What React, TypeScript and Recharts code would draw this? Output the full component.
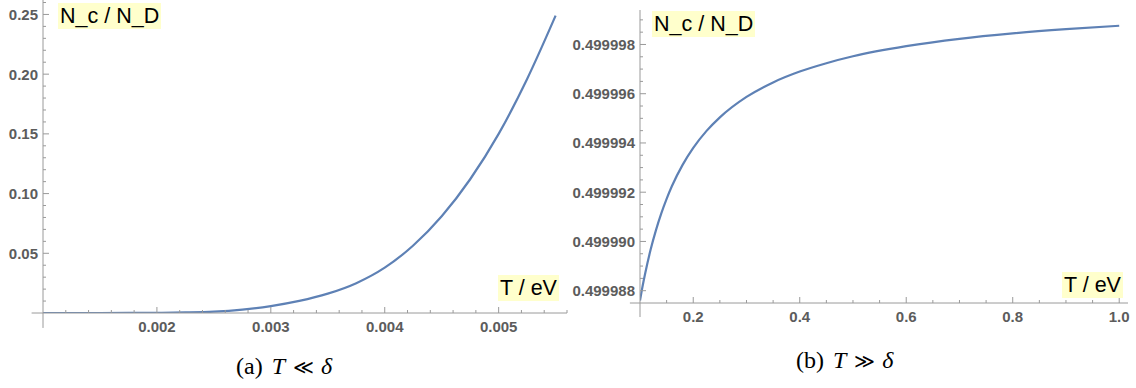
import { LineChart, Line, XAxis, YAxis, ReferenceLine } from "recharts";

// (a) T << delta : temperature in eV and the ratio N_c / N_D
const LOW_T = [
  0.001, 0.00125, 0.0015, 0.00175, 0.002, 0.00225, 0.0025, 0.00275, 0.003,
  0.00325, 0.0035, 0.00375, 0.004, 0.00425, 0.0045, 0.00475, 0.005, 0.00525,
  0.0055,
];
const LOW_RATIO = [
  0, 0, 0.00001, 0.00005, 0.00018, 0.0005, 0.0012, 0.0029, 0.0058, 0.0101,
  0.0162, 0.025, 0.038, 0.0565, 0.081, 0.112, 0.15, 0.196, 0.249,
];

// (b) T >> delta
const HIGH_T = [
  0.1, 0.105, 0.11, 0.12, 0.13, 0.14, 0.15, 0.16, 0.18, 0.2, 0.225, 0.25, 0.3,
  0.35, 0.4, 0.45, 0.5, 0.6, 0.7, 0.8, 0.9, 1.0,
];
const HIGH_RATIO = [
  0.4999876, 0.4999882, 0.49998873, 0.49998967, 0.49999046, 0.49999114,
  0.49999173, 0.49999225, 0.49999311, 0.4999938, 0.49999449, 0.49999504,
  0.49999587, 0.49999646, 0.4999969, 0.49999724, 0.49999752, 0.49999793,
  0.49999823, 0.49999845, 0.49999862, 0.49999876,
];

// labelled ticks
const LOW_X_MAJOR = [0.002, 0.003, 0.004, 0.005];
const LOW_Y_MAJOR = [0.05, 0.1, 0.15, 0.2, 0.25];
const HIGH_X_MAJOR = [0.2, 0.4, 0.6, 0.8, 1.0];
const HIGH_Y_MAJOR = [0.499988, 0.49999, 0.499992, 0.499994, 0.499996, 0.499998];

// all ticks incl. minor ones
const LOW_X_TICKS = Array.from({ length: 23 }, (_, i) => +(0.0012 + i * 0.0002).toFixed(4));
const LOW_Y_TICKS = Array.from({ length: 26 }, (_, i) => +((i + 1) * 0.01).toFixed(2));
const HIGH_X_TICKS = Array.from({ length: 18 }, (_, i) => +(0.15 + i * 0.05).toFixed(2));
const HIGH_Y_TICKS = Array.from({ length: 23 }, (_, i) => (499988 + i * 0.5) / 1e6);

const lowData = LOW_T.map((t, i) => ({ t, v: LOW_RATIO[i] }));
const highData = HIGH_T.map((t, i) => ({ t, v: HIGH_RATIO[i] }));

const AXIS = "#9a9a9a";
const TICK_TEXT = "#5c5c5c";
const CURVE = "#5e81b5";

const isMajor = (majors: number[], v: number) =>
  majors.some((m) => Math.abs(m - v) < 1e-10);

const makeXTick = (majors: number[], digits: number) => (props: any) => {
  const { x, y, payload } = props;
  const major = isMajor(majors, payload.value);
  return (
    <g>
      <line x1={x} y1={y} x2={x} y2={y - (major ? 6 : 3)} stroke={AXIS} />
      {major && (
        <text
          x={x}
          y={y + 19}
          textAnchor="middle"
          fontFamily="Liberation Sans, Arial, sans-serif"
          fontWeight="bold"
          fontSize={15}
          fill={TICK_TEXT}
        >
          {payload.value.toFixed(digits)}
        </text>
      )}
    </g>
  );
};

const makeYTick = (majors: number[], digits: number) => (props: any) => {
  const { x, y, payload } = props;
  const major = isMajor(majors, payload.value);
  return (
    <g>
      <line x1={x} y1={y} x2={x + (major ? 6 : 3)} y2={y} stroke={AXIS} />
      {major && (
        <text
          x={x - 5}
          y={y}
          dy="0.36em"
          textAnchor="end"
          fontFamily="Liberation Sans, Arial, sans-serif"
          fontWeight="bold"
          fontSize={15}
          fill={TICK_TEXT}
        >
          {payload.value.toFixed(digits)}
        </text>
      )}
    </g>
  );
};

const tagStyle = (left: number, top: number): React.CSSProperties => ({
  position: "absolute",
  left,
  top,
  background: "#ffffcc",
  fontFamily: "Liberation Sans, Arial, sans-serif",
  fontSize: 21.5,
  lineHeight: "26px",
  padding: "0 2px",
  color: "#000",
  whiteSpace: "nowrap",
});

const captionStyle = (left: number, top: number): React.CSSProperties => ({
  position: "absolute",
  left,
  top,
  fontFamily: "Liberation Serif, Times New Roman, serif",
  fontSize: 24,
  lineHeight: "24px",
  whiteSpace: "nowrap",
  color: "#000",
});

const Caption = ({ tag, rel }: { tag: string; rel: string }) => (
  <>
    <span>({tag})</span>
    <i style={{ marginLeft: 9 }}>T</i>
    <span style={{ marginLeft: 8, fontFamily: "DejaVu Serif, serif", fontSize: 20 }}>{rel}</span>
    <i style={{ marginLeft: 7 }}>δ</i>
  </>
);

const App = () => {
  return (
    <div style={{ position: "absolute", left: 0, top: 0, width: 1136, height: 388, background: "#fff" }}>
      <div style={{ position: "absolute", left: 0, top: 0 }}>
        <LineChart
          width={580}
          height={345}
          data={lowData}
          margin={{ top: 0, right: 13, bottom: 31, left: 42 }}
          style={{ overflow: "visible" }}
        >
          <XAxis
            type="number"
            dataKey="t"
            domain={[0.001, 0.0056]}
            allowDataOverflow
            ticks={LOW_X_TICKS}
            interval={0}
            height={1}
            tickSize={0}
            tickMargin={0}
            tickLine={false}
            axisLine={{ stroke: AXIS }}
            tick={makeXTick(LOW_X_MAJOR, 3)}
          />
          <YAxis
            type="number"
            domain={[0, 0.2621]}
            allowDataOverflow
            ticks={LOW_Y_TICKS}
            interval={0}
            width={1}
            tickSize={0}
            tickMargin={0}
            tickLine={false}
            axisLine={{ stroke: AXIS }}
            tick={makeYTick(LOW_Y_MAJOR, 2)}
          />
          <ReferenceLine
            segment={[{ x: 0.0009, y: 0 }, { x: 0.001, y: 0 }]}
            stroke={AXIS}
            ifOverflow="visible"
          />
          <ReferenceLine
            segment={[{ x: 0.001, y: 0 }, { x: 0.001, y: -0.0125 }]}
            stroke={AXIS}
            ifOverflow="visible"
          />
          <Line
            type="monotone"
            dataKey="v"
            stroke={CURVE}
            strokeWidth={2.2}
            dot={false}
            isAnimationActive={false}
          />
        </LineChart>
      </div>

      <div style={{ position: "absolute", left: 570, top: 0 }}>
        <LineChart
          width={566}
          height={345}
          data={highData}
          margin={{ top: 10, right: 8, bottom: 41, left: 69 }}
          style={{ overflow: "visible" }}
        >
          <XAxis
            type="number"
            dataKey="t"
            domain={[0.1, 1.0165]}
            allowDataOverflow
            ticks={HIGH_X_TICKS}
            interval={0}
            height={1}
            tickSize={0}
            tickMargin={0}
            tickLine={false}
            axisLine={{ stroke: AXIS }}
            tick={makeXTick(HIGH_X_MAJOR, 1)}
          />
          <YAxis
            type="number"
            domain={[0.4999875, 0.4999994]}
            allowDataOverflow
            ticks={HIGH_Y_TICKS}
            interval={0}
            width={1}
            tickSize={0}
            tickMargin={0}
            tickLine={false}
            axisLine={{ stroke: AXIS }}
            tick={makeYTick(HIGH_Y_MAJOR, 6)}
          />
          <ReferenceLine
            segment={[{ x: 0.081, y: 0.4999875 }, { x: 0.1, y: 0.4999875 }]}
            stroke={AXIS}
            ifOverflow="visible"
          />
          <ReferenceLine
            segment={[{ x: 0.1, y: 0.4999875 }, { x: 0.1, y: 0.49998693 }]}
            stroke={AXIS}
            ifOverflow="visible"
          />
          <Line
            type="monotone"
            dataKey="v"
            stroke={CURVE}
            strokeWidth={2.2}
            dot={false}
            isAnimationActive={false}
          />
        </LineChart>
      </div>

      <div style={tagStyle(58, 3)}>N_c / N_D</div>
      <div style={tagStyle(498, 275)}>T / eV</div>
      <div style={tagStyle(652, 11)}>N_c / N_D</div>
      <div style={tagStyle(1062, 272)}>T / eV</div>

      <div style={captionStyle(236, 354)}>
        <Caption tag="a" rel="≪" />
      </div>
      <div style={captionStyle(796, 348)}>
        <Caption tag="b" rel="≫" />
      </div>
    </div>
  );
};

export default App;
